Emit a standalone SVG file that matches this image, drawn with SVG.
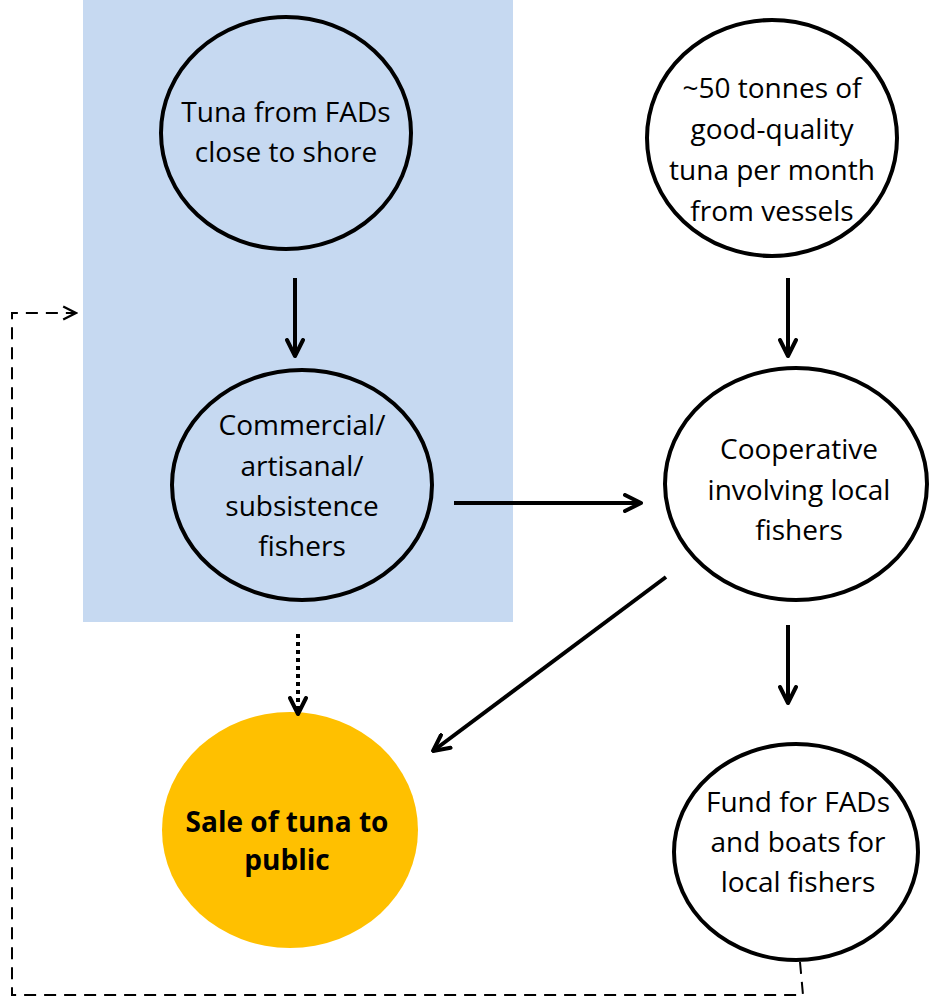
<svg xmlns="http://www.w3.org/2000/svg" width="929" height="1000" viewBox="0 0 929 1000">
<style>
.n{fill:#fff;stroke:#000;stroke-width:4}
.t{font-family:"Open Sans","Liberation Sans",sans-serif;font-size:28px;text-anchor:middle;fill:#000}
.b{font-weight:bold}
.a{stroke:#000;stroke-width:4;fill:none}
.d{stroke:#000;stroke-width:2;fill:none;stroke-dasharray:12 8}
</style>
<defs>
<marker id="ah" viewBox="0 0 10 10" refX="9" refY="5" markerWidth="5" markerHeight="5" orient="auto" markerUnits="strokeWidth"><path d="M1,1 L9,5 L1,9" fill="none" stroke="#000" stroke-width="2" stroke-linecap="round" stroke-linejoin="round"/></marker>
<marker id="ahs" viewBox="0 0 10 10" refX="9" refY="5" markerWidth="8" markerHeight="8" orient="auto" markerUnits="strokeWidth"><path d="M1,1 L9,5 L1,9" fill="none" stroke="#000" stroke-width="1.4"/></marker>
</defs>
<rect x="83" y="0" width="430" height="622" fill="#C6D9F1"/>
<g id="n1"><ellipse class="n" cx="286" cy="133" rx="125" ry="116" style="fill:#C6D9F1"/>
<text class="t" x="286" y="122">Tuna from FADs</text><text class="t" x="286" y="162">close to shore</text></g>
<g id="n2"><ellipse class="n" cx="302" cy="485" rx="130" ry="115" style="fill:#C6D9F1"/>
<text class="t" x="302" y="435">Commercial/</text><text class="t" x="302" y="476">artisanal/</text><text class="t" x="302" y="516">subsistence</text><text class="t" x="302" y="556">fishers</text></g>
<g id="n3"><ellipse class="n" cx="772" cy="138" rx="125" ry="118"/>
<text class="t" x="772" y="98">~50 tonnes of</text><text class="t" x="772" y="139">good-quality</text><text class="t" x="772" y="180">tuna per month</text><text class="t" x="772" y="221">from vessels</text></g>
<g id="n4"><ellipse class="n" cx="796" cy="484" rx="131" ry="116"/>
<text class="t" x="799" y="459">Cooperative</text><text class="t" x="799" y="500">involving local</text><text class="t" x="799" y="540">fishers</text></g>
<g id="n5"><ellipse cx="290" cy="830" rx="128" ry="118" fill="#FFC000"/>
<text class="t b" x="287" y="832">Sale of tuna to</text><text class="t b" x="287" y="870">public</text></g>
<g id="n6"><ellipse class="n" cx="796" cy="852" rx="122" ry="108"/>
<text class="t" x="798" y="812">Fund for FADs</text><text class="t" x="798" y="852">and boats for</text><text class="t" x="798" y="892">local fishers</text></g>
<g id="connectors">
<line class="a" x1="295" y1="278" x2="295" y2="356" marker-end="url(#ah)"/>
<line class="a" x1="788" y1="278" x2="788" y2="356" marker-end="url(#ah)"/>
<line class="a" x1="454" y1="503" x2="641" y2="503" marker-end="url(#ah)"/>
<line class="a" x1="666" y1="577" x2="433" y2="751" marker-end="url(#ah)"/>
<line class="a" x1="788" y1="625" x2="788" y2="703" marker-end="url(#ah)"/>
<line x1="298" y1="634" x2="298" y2="714" stroke="#000" stroke-width="4" stroke-dasharray="4 4" marker-end="url(#ah)"/>
<polyline class="d" points="800,962 803,995 12,995 12,313 76,313" marker-end="url(#ahs)"/>
</g>
</svg>
